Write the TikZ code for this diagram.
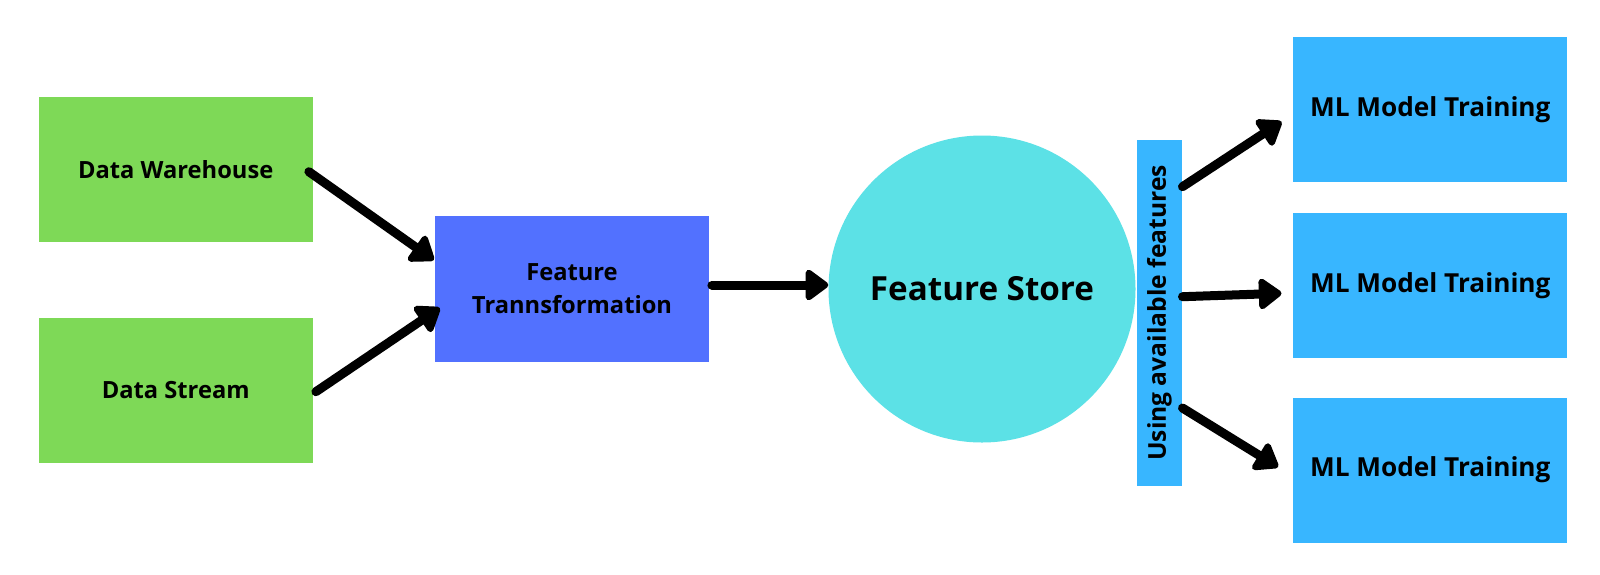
\documentclass[tikz,border=0pt]{standalone}
\usepackage{fontspec}
\setmainfont{Open Sans}
\usetikzlibrary{arrows.meta,calc}
\definecolor{cgreen}{HTML}{7ED957}
\definecolor{cblue}{HTML}{5271FF}
\definecolor{ccyan}{HTML}{5CE1E6}
\definecolor{clight}{HTML}{38B6FF}
\begin{document}
\begin{tikzpicture}[x=1pt,y=-1pt,
  box/.style={rectangle, minimum width=274pt, minimum height=145pt, inner sep=0pt,
    align=center, font=\bfseries\fontsize{23.7}{33}\selectfont},
  mlbox/.style={box, fill=clight, font=\bfseries\fontsize{26.2}{30}\selectfont},
  arr/.style={line width=9pt, line cap=round, -{Triangle[length=25pt,width=35pt,round]}}]
\useasboundingbox[fill=white] (0,0) rectangle (1600,574);
\node[box, fill=cgreen] (dw) at (175.7,169.2) {Data Warehouse};
\node[box, fill=cgreen] (ds) at (175.7,390) {Data Stream};
\node[box, fill=cblue, minimum height=146pt] (ft) at (572,289) {Feature\\Trannsformation};
\node[circle, fill=ccyan, minimum size=307pt, inner sep=0pt,
  font=\bfseries\fontsize{33.2}{38}\selectfont] (fs) at (982,289) {Feature Store};
\node[rectangle, fill=clight, rotate=90, minimum width=346pt, minimum height=45.6pt, inner sep=0pt,
  font=\bfseries\fontsize{24.6}{28}\selectfont] (bar) at (1159.5,313) {Using available features};
\node[mlbox] (ml1) at (1430.3,109.5) {ML Model Training};
\node[mlbox] (ml2) at (1430.3,285.5) {ML Model Training};
\node[mlbox] (ml3) at (1430.3,470) {ML Model Training};
\draw[arr] ($(dw.east)+(-4,2.5)$) -- ($(ft.west)+(-1,-29)$);
\draw[arr] ($(ds.east)+(3,1.7)$) -- ($(ft.west)+(5,19)$);
\draw[arr] ($(ft.east)+(2.7,-4)$) -- ($(fs.west)+(0,-4)$);
\draw[arr] ($(bar.south)+(0,-126.3)$) -- ($(ml1.west)+(-11.6,12.2)$);
\draw[arr] ($(bar.south)+(0,-16.3)$) -- ($(ml2.west)+(-11.6,7.8)$);
\draw[arr] ($(bar.south)+(0,95)$) -- ($(ml3.west)+(-15,-3)$);
\end{tikzpicture}
\end{document}
